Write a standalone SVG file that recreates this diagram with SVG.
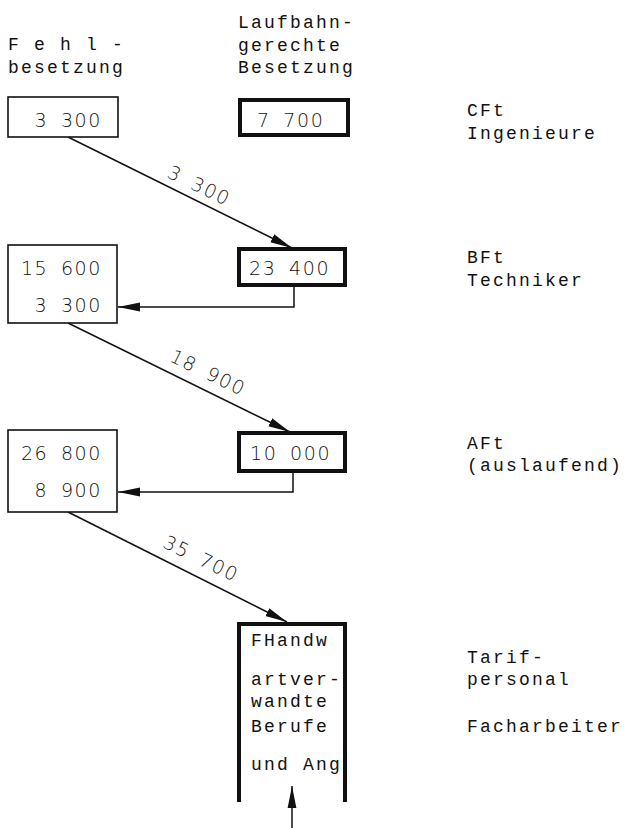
<svg xmlns="http://www.w3.org/2000/svg" width="624" height="828" viewBox="0 0 624 828">
<style>
.tw{font-family:"Liberation Mono","Courier New",monospace;font-size:18px;letter-spacing:2.2px;fill:#111}
.num{font-family:"DejaVu Sans","Liberation Sans",sans-serif;font-weight:200;font-size:19px;letter-spacing:1.6px;word-spacing:5px;fill:#111}
.thin{fill:#fff;stroke:#111;stroke-width:1.6}
.thick{fill:#fff;stroke:#111;stroke-width:4}
.con{fill:none;stroke:#111;stroke-width:1.5}
</style>
<defs>
<marker id="ah" viewBox="0 0 22 10" refX="22" refY="5" markerWidth="22" markerHeight="10" markerUnits="userSpaceOnUse" orient="auto">
<path d="M0,0.6 L22,5 L0,9.4 z" fill="#111"/>
</marker>
</defs>
<rect width="624" height="828" fill="#fff"/>

<g id="header">
<text class="tw" x="8" y="50">F e h l -</text>
<text class="tw" x="8" y="73">besetzung</text>
<text class="tw" x="238" y="28">Laufbahn-</text>
<text class="tw" x="238" y="51">gerechte</text>
<text class="tw" x="238" y="73">Besetzung</text>
</g>

<g id="labels-right">
<text class="tw" x="467" y="116">CFt</text>
<text class="tw" x="467" y="139">Ingenieure</text>
<text class="tw" x="467" y="263">BFt</text>
<text class="tw" x="467" y="286">Techniker</text>
<text class="tw" x="467" y="449">AFt</text>
<text class="tw" x="467" y="471">(auslaufend)</text>
<text class="tw" x="467" y="663">Tarif-</text>
<text class="tw" x="467" y="685">personal</text>
<text class="tw" x="467" y="732">Facharbeiter</text>
</g>

<g id="connectors">
<path class="con" d="M68,137 L292,248" marker-end="url(#ah)"/>
<path class="con" d="M294,287 V307 H118" marker-end="url(#ah)"/>
<path class="con" d="M68,323 L290,432" marker-end="url(#ah)"/>
<path class="con" d="M293,473 V492 H118" marker-end="url(#ah)"/>
<path class="con" d="M68,512 L287,622" marker-end="url(#ah)"/>
<path class="con" d="M292,828 V786" marker-end="url(#ah)"/>
<g transform="translate(198,188) rotate(26)"><text class="num" x="0" y="4" text-anchor="middle">3 300</text></g>
<g transform="translate(207,375) rotate(26)"><text class="num" x="0" y="4" text-anchor="middle">18 900</text></g>
<g transform="translate(200,561) rotate(26)"><text class="num" x="0" y="4" text-anchor="middle">35 700</text></g>
</g>

<g id="fehl-cft">
<rect class="thin" x="8" y="97" width="110" height="40"/>
<text class="num" x="102" y="127" text-anchor="end">3 300</text>
</g>
<g id="lauf-cft">
<rect class="thick" x="240" y="100" width="108" height="35"/>
<text class="num" x="257" y="127">7 700</text>
</g>

<g id="fehl-bft">
<rect class="thin" x="8" y="245" width="109" height="78"/>
<text class="num" x="102" y="275" text-anchor="end">15 600</text>
<text class="num" x="102" y="312" text-anchor="end">3 300</text>
</g>
<g id="lauf-bft">
<rect class="thick" x="239" y="249" width="106" height="36"/>
<text class="num" x="249" y="275">23 400</text>
</g>

<g id="fehl-aft">
<rect class="thin" x="8" y="430" width="109" height="82"/>
<text class="num" x="102" y="460" text-anchor="end">26 800</text>
<text class="num" x="102" y="497" text-anchor="end">8 900</text>
</g>
<g id="lauf-aft">
<rect class="thick" x="239" y="433" width="106" height="38"/>
<text class="num" x="250" y="460">10 000</text>
</g>

<g id="tarif">
<path d="M239,802 V624 H345 V802" fill="none" stroke="#111" stroke-width="4"/>
<text class="tw" x="251" y="646">FHandw</text>
<text class="tw" x="251" y="685">artver-</text>
<text class="tw" x="251" y="707">wandte</text>
<text class="tw" x="251" y="732">Berufe</text>
<text class="tw" x="251" y="770">und Ang</text>
</g>
</svg>
